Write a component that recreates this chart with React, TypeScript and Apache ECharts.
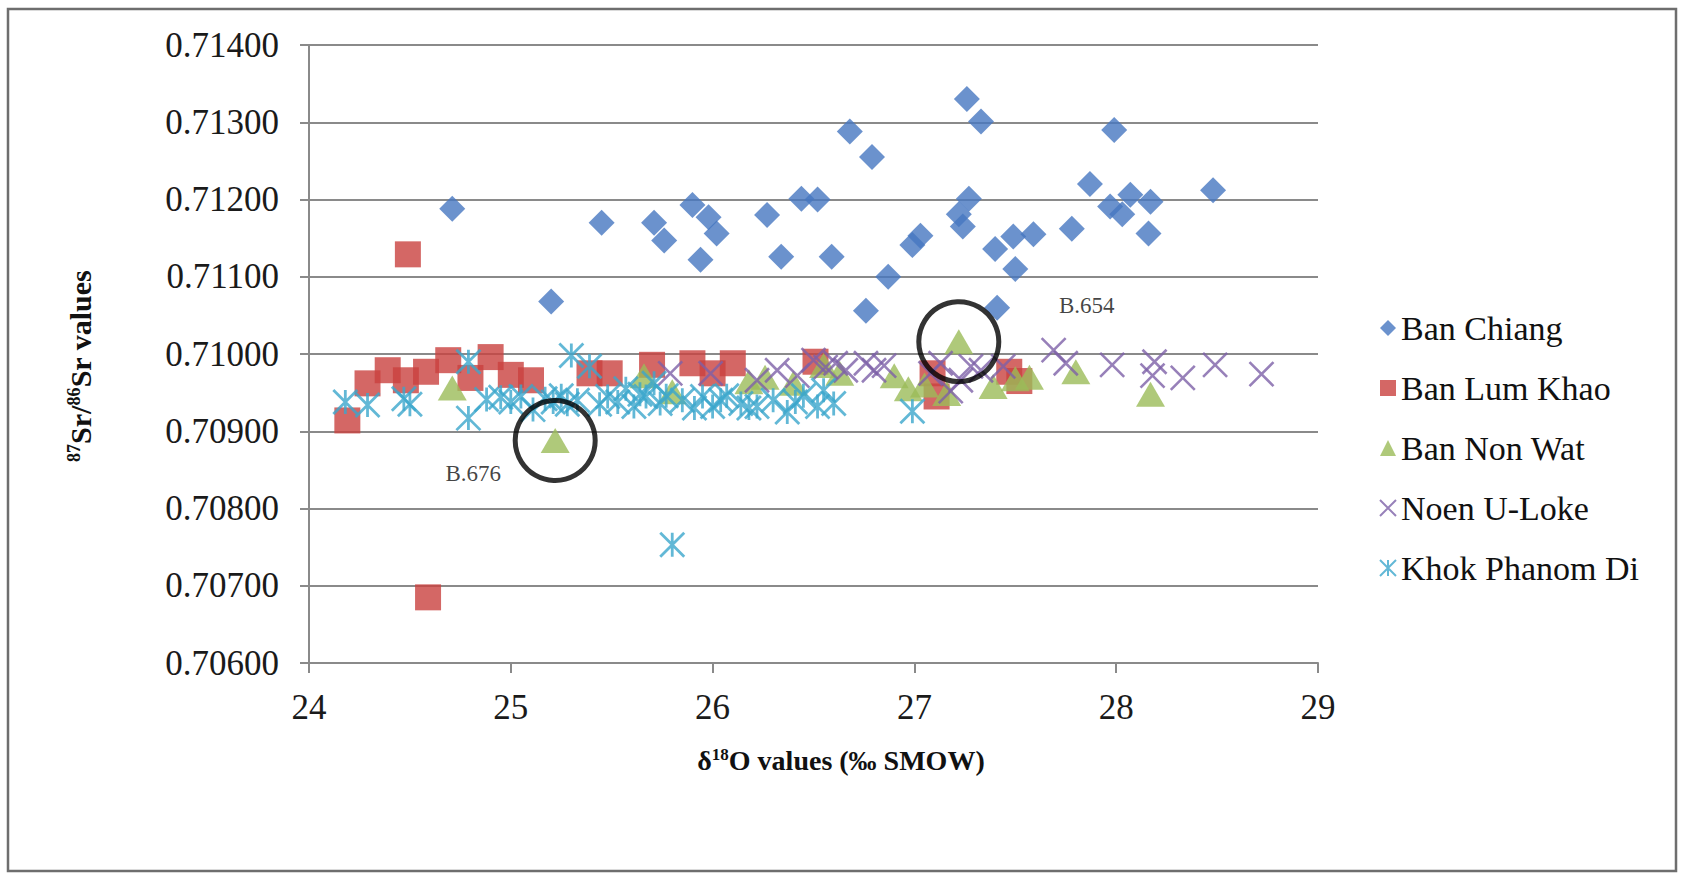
import React, { useEffect, useRef } from "react";
import * as echarts from "echarts";

// δ18O (x) against 87Sr/86Sr (y) for each site
const seriesNames = ["Ban Chiang", "Ban Lum Khao", "Ban Non Wat", "Noen U-Loke", "Khok Phanom Di"];

const banChiang: [number, number][] = [
  [24.71, 0.71188], [25.2, 0.71068], [25.45, 0.7117], [25.71, 0.7117], [25.76, 0.71147],
  [25.9, 0.71193], [25.98, 0.71177], [25.94, 0.71122], [26.02, 0.71156], [26.27, 0.7118],
  [26.34, 0.71126], [26.44, 0.71201], [26.52, 0.712], [26.59, 0.71126], [26.68, 0.71288],
  [26.79, 0.71255], [26.76, 0.71056], [26.87, 0.711], [26.99, 0.71141], [27.03, 0.71153],
  [27.26, 0.7133], [27.33, 0.71301], [27.27, 0.71201], [27.22, 0.71181], [27.24, 0.71165],
  [27.4, 0.71136], [27.41, 0.7106], [27.49, 0.71152], [27.5, 0.7111], [27.59, 0.71155],
  [27.78, 0.71162], [27.87, 0.7122], [27.99, 0.7129], [27.97, 0.71191], [28.03, 0.71181],
  [28.07, 0.71206], [28.17, 0.71197], [28.16, 0.71156], [28.48, 0.71212],
];

const banLumKhao: [number, number][] = [
  [24.19, 0.70914], [24.29, 0.70962], [24.39, 0.70979], [24.48, 0.70966], [24.58, 0.70977],
  [24.69, 0.70992], [24.8, 0.70969], [24.9, 0.70996], [25.0, 0.70973], [25.1, 0.70966],
  [24.49, 0.71129], [24.59, 0.70685], [25.39, 0.70975], [25.49, 0.70975], [25.7, 0.70986],
  [25.9, 0.70988], [26.0, 0.70975], [26.1, 0.70988], [26.51, 0.7099], [27.09, 0.70975],
  [27.11, 0.70945], [27.47, 0.70977], [27.52, 0.70965],
];

const banNonWat: [number, number][] = [
  [24.71, 0.70956], [25.22, 0.70888], [25.66, 0.70972], [25.8, 0.70951], [26.18, 0.70964],
  [26.26, 0.7097], [26.4, 0.70962], [26.55, 0.70985], [26.63, 0.70975], [26.9, 0.70972],
  [26.97, 0.70955], [27.05, 0.7096], [27.16, 0.70949], [27.22, 0.71016], [27.39, 0.70958],
  [27.5, 0.70968], [27.57, 0.7097], [27.8, 0.70977], [28.17, 0.70948],
];

const noenULoke: [number, number][] = [
  [25.79, 0.70975], [25.99, 0.70975], [26.22, 0.70966], [26.32, 0.70979], [26.42, 0.70972],
  [26.5, 0.70992], [26.56, 0.70983], [26.61, 0.70988], [26.66, 0.70979], [26.76, 0.70988],
  [26.8, 0.70979], [26.85, 0.70985], [27.08, 0.70975], [27.13, 0.70988], [27.18, 0.70952],
  [27.23, 0.70966], [27.28, 0.70984], [27.33, 0.70979], [27.44, 0.70984], [27.69, 0.71005],
  [27.75, 0.70988], [27.98, 0.70986], [28.18, 0.70972], [28.19, 0.7099], [28.33, 0.70969],
  [28.49, 0.70986], [28.72, 0.70974],
];

const khokPhanomDi: [number, number][] = [
  [24.18, 0.70938], [24.29, 0.70934], [24.47, 0.70942], [24.5, 0.70935], [24.79, 0.7099],
  [24.79, 0.70917], [24.88, 0.70941], [24.95, 0.70944], [25.0, 0.70938], [25.05, 0.70945],
  [25.11, 0.70928], [25.17, 0.70942], [25.21, 0.70938], [25.25, 0.70946], [25.28, 0.70935],
  [25.3, 0.70998], [25.33, 0.7094], [25.39, 0.70984], [25.44, 0.70935], [25.48, 0.70945],
  [25.53, 0.70938], [25.57, 0.70955], [25.61, 0.70932], [25.64, 0.70948], [25.67, 0.70945],
  [25.71, 0.70962], [25.74, 0.70936], [25.77, 0.70946], [25.8, 0.70753], [25.85, 0.7094],
  [25.91, 0.7093], [25.95, 0.70945], [26.0, 0.70932], [26.04, 0.7094], [26.07, 0.70946],
  [26.14, 0.70936], [26.18, 0.7093], [26.22, 0.70932], [26.3, 0.7094], [26.37, 0.70925],
  [26.41, 0.70938], [26.45, 0.70946], [26.52, 0.70932], [26.55, 0.70953], [26.6, 0.70936],
  [26.99, 0.70926],
];

// Samples picked out with a ring and a caption
const circledNames = ["B.676", "B.654"];
const circledPoints: [number, number][] = [[25.22, 0.70888], [27.22, 0.71016]];
const circledLabelOffsets: [number, number][] = [[-82, 33], [128, -36]];

const SERIF = "Liberation Serif, Times New Roman, serif";
const GRID_GRAY = "#8a8a8a";
const X_MARK = "path://M0,0L10,10M10,0L0,10";
const STAR_MARK = "path://M0,0L10,10M10,0L0,10M5,0L5,10";

export default function App() {
  const ref = useRef<HTMLDivElement | null>(null);

  useEffect(() => {
    if (!ref.current) return;
    const chart = echarts.init(ref.current, null, { renderer: "svg" });

    const strokeStyle = (c: string, w: number) => ({
      color: "rgba(0,0,0,0)",
      borderColor: c,
      borderWidth: w,
    });

    chart.setOption({
      animation: false,
      backgroundColor: "#ffffff",
      grid: { left: 309, right: 365, top: 45, bottom: 211, containLabel: false },
      xAxis: {
        type: "value",
        min: 24,
        max: 29,
        interval: 1,
        axisLine: { show: true, onZero: false, lineStyle: { color: GRID_GRAY, width: 2 } },
        axisTick: { show: true, length: 10, lineStyle: { color: GRID_GRAY, width: 2 } },
        splitLine: { show: false },
        axisLabel: { fontFamily: SERIF, fontSize: 35, color: "#1a1a1a", margin: 27 },
      },
      yAxis: {
        type: "value",
        min: 0.706,
        max: 0.714,
        interval: 0.001,
        axisLine: { show: true, onZero: false, lineStyle: { color: GRID_GRAY, width: 2 } },
        axisTick: { show: true, length: 9, lineStyle: { color: GRID_GRAY, width: 2 } },
        splitLine: { show: true, lineStyle: { color: GRID_GRAY, width: 2 } },
        axisLabel: {
          fontFamily: SERIF,
          fontSize: 35,
          color: "#1a1a1a",
          margin: 30,
          formatter: (v: number) => v.toFixed(5),
        },
      },
      legend: {
        data: seriesNames,
        orient: "vertical",
        left: 1374,
        top: 303,
        itemWidth: 16,
        itemHeight: 16,
        itemGap: 20,
        textStyle: { fontFamily: SERIF, fontSize: 34, color: "#111", lineHeight: 40 },
      },
      graphic: [
        {
          type: "rect",
          shape: { x: 8, y: 9, width: 1668, height: 862 },
          style: { fill: "none", stroke: "#6e6e6e", lineWidth: 2.5 },
          silent: true,
        },
        {
          type: "text",
          x: 841,
          y: 760,
          style: {
            text: "{a|δ}{s|18}{a|O values (‰ SMOW)}",
            align: "center",
            verticalAlign: "middle",
            fill: "#111",
            rich: {
              a: { fontFamily: SERIF, fontSize: 28, fontWeight: "bold", fill: "#111" },
              s: { fontFamily: SERIF, fontSize: 17, fontWeight: "bold", verticalAlign: "top", fill: "#111" },
            },
          },
        },
        {
          type: "text",
          x: 80,
          y: 366,
          rotation: Math.PI / 2,
          style: {
            text: "{s|87}{a|Sr/}{s|86}{a|Sr values}",
            align: "center",
            verticalAlign: "middle",
            fill: "#111",
            rich: {
              a: { fontFamily: SERIF, fontSize: 30, fontWeight: "bold", fill: "#111" },
              s: { fontFamily: SERIF, fontSize: 18, fontWeight: "bold", verticalAlign: "top", fill: "#111" },
            },
          },
        },
      ],
      series: [
        {
          type: "scatter",
          name: seriesNames[0],
          data: banChiang,
          symbol: "diamond",
          symbolSize: 26,
          itemStyle: { color: "#4677c0" },
        },
        {
          type: "scatter",
          name: seriesNames[1],
          data: banLumKhao,
          symbol: "rect",
          symbolSize: 26,
          itemStyle: { color: "#c9413f" },
        },
        {
          type: "scatter",
          name: seriesNames[2],
          data: banNonWat,
          symbol: "triangle",
          symbolSize: [29, 25],
          itemStyle: { color: "#9bbb59" },
        },
        {
          type: "scatter",
          name: seriesNames[3],
          data: noenULoke,
          symbol: X_MARK,
          symbolSize: 24,
          itemStyle: strokeStyle("#7d60a8", 2.6),
        },
        {
          type: "scatter",
          name: seriesNames[4],
          data: khokPhanomDi,
          symbol: STAR_MARK,
          symbolSize: 24,
          itemStyle: strokeStyle("#3ba6cc", 2.8),
        },
        {
          type: "scatter",
          name: "circled",
          silent: true,
          data: circledPoints.map((p, i) => ({
            name: circledNames[i],
            value: p,
            label: { offset: circledLabelOffsets[i] },
          })),
          symbol: "circle",
          symbolSize: 80,
          itemStyle: { color: "rgba(0,0,0,0)", borderColor: "#000", borderWidth: 5 },
          label: {
            show: true,
            position: "inside",
            formatter: "{b}",
            fontFamily: SERIF,
            fontSize: 23,
            color: "#111",
          },
          z: 5,
        },
      ],
    });

    return () => chart.dispose();
  }, []);

  return (
    <div style={{ position: "fixed", left: 0, top: 0, width: 1683, height: 874, background: "#fff" }}>
      <div ref={ref} style={{ width: 1683, height: 874 }} />
    </div>
  );
}
